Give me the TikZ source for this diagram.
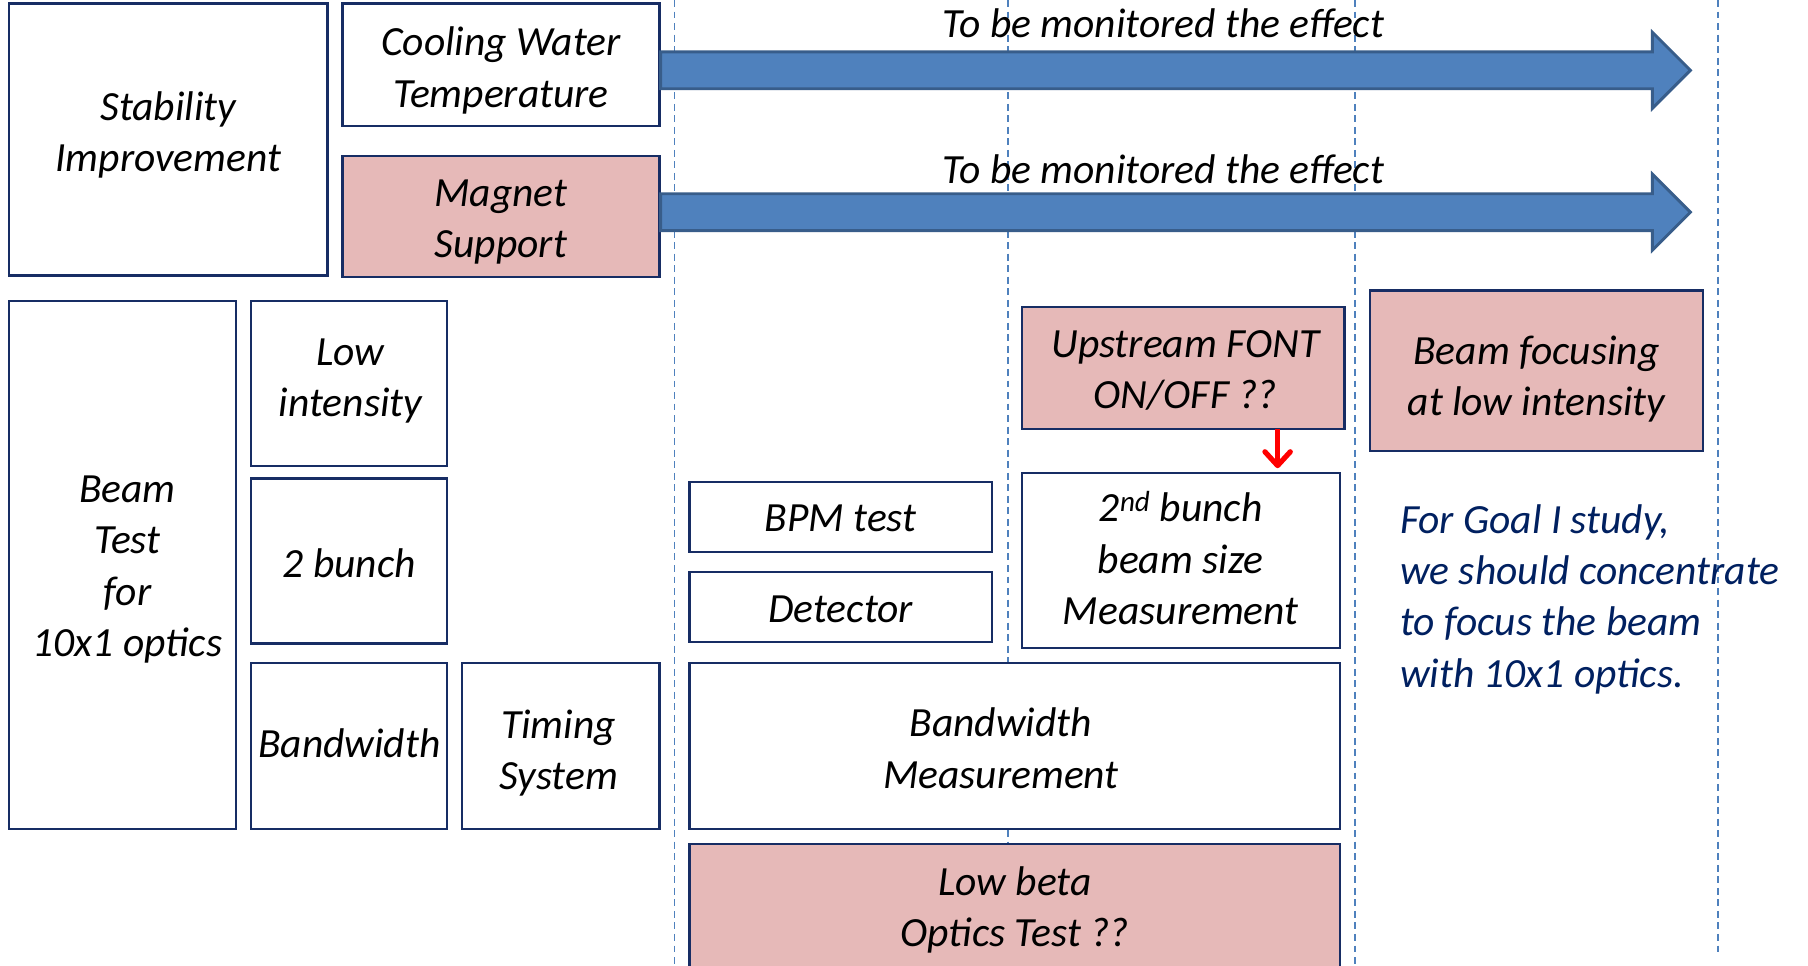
\documentclass[tikz,border=0pt]{standalone}
\usepackage{fontspec}
\setmainfont{Carlito}
\usetikzlibrary{arrows.meta}
\definecolor{navy}{RGB}{23,45,100}
\definecolor{pinkfill}{RGB}{230,185,184}
\definecolor{arrowblue}{RGB}{79,129,189}
\definecolor{arrowedge}{RGB}{56,93,138}
\definecolor{goalblue}{RGB}{0,32,96}
\definecolor{dashblue}{RGB}{79,129,189}
\tikzset{
  txt/.style={font=\fontsize{36}{44.5}\selectfont\itshape, align=center, text=black},
  box/.style={draw=navy, line width=1.9pt, fill=white, inner sep=0pt, rectangle},
  pinkbox/.style={box, fill=pinkfill},
  guide/.style={draw=dashblue, line width=1.5pt, dash pattern=on 6pt off 4pt},
  bigarrow/.style={fill=arrowblue, draw=arrowedge, line width=2.5pt, line join=miter},
  redarrow/.style={draw=red, line width=5pt, -{Straight Barb[length=12pt,width=22pt,line width=4.5pt,round]}},
}
\begin{document}
\begin{tikzpicture}[x=1pt,y=-1pt]
\clip (0,0) rectangle (1568,837);
\fill[white] (0,0) rectangle (1568,837);
% dashed guides
\draw[guide] (585,0) -- (585,837);
\draw[guide] (874,0) -- (874,837);
\draw[guide] (1175,0) -- (1175,837);
\draw[guide] (1490,0) -- (1490,828);
% top group
\node[box, minimum width=276pt, minimum height=236pt] (stab) at (146,121) {};
\node[txt] (stabT) at ([shift={(0,-4)}]stab.center) {Stability\\Improvement};
\node[box, minimum width=275pt, minimum height=106pt] (cool) at (434.5,56) {};
\node[txt] (coolT) at ([shift={(0,5)}]cool.center) {Cooling Water\\Temperature};
\node[pinkbox, minimum width=275pt, minimum height=105pt] (magnet) at (434.5,187.5) {};
\node[txt] (magnetT) at ([shift={(0,5)}]magnet.center) {Magnet\\Support};
% big arrows
\draw[bigarrow] (cool.east |- 0,45) -- (1433,45) -- (1433,28) -- (1466,61) -- (1433,94) -- (1433,77) -- (cool.east |- 0,77) -- cycle;
\draw[bigarrow] (magnet.east |- 0,168) -- (1433,168) -- (1433,151) -- (1466,184) -- (1433,217) -- (1433,200) -- (magnet.east |- 0,200) -- cycle;
\node[txt] (mon1) at (1009,20) {To be monitored the effect};
\node[txt] (mon2) at (1009,147) {To be monitored the effect};
% beam test group
\node[box, minimum width=197pt, minimum height=458pt] (beam) at (106.5,490) {};
\node[txt] (beamT) at ([shift={(4,4)}]beam.center) {Beam\\Test\\for\\10x1 optics};
\node[box, minimum width=170pt, minimum height=143pt] (low) at (303,332.5) {};
\node[txt] (lowT) at ([shift={(1,-2)}]low.center) {Low\\intensity};
\node[box, minimum width=170pt, minimum height=143pt] (twob) at (303,486.5) {};
\node[txt] (twobT) at ([shift={(0,2)}]twob.center) {2 bunch};
\node[box, minimum width=170pt, minimum height=144pt] (bw) at (303,647) {};
\node[txt] (bwT) at ([shift={(0,-2)}]bw.center) {Bandwidth};
\node[box, minimum width=171pt, minimum height=144pt] (timing) at (486.5,647) {};
\node[txt] (timingT) at ([shift={(-2,6)}]timing.center) {Timing\\System};
\node[box, minimum width=262pt, minimum height=61pt] (bpm) at (729,448.5) {};
\node[txt] (bpmT) at ([shift={(0,1)}]bpm.center) {BPM test};
\node[box, minimum width=262pt, minimum height=61pt] (det) at (729,526.5) {};
\node[txt] (detT) at ([shift={(0,2)}]det.center) {Detector};
\node[pinkbox, minimum width=280pt, minimum height=106pt] (font) at (1026,319) {};
\node[txt] (fontT) at ([shift={(2,2)}]font.center) {Upstream FONT\\ON/OFF ??};
\node[box, minimum width=276pt, minimum height=152pt] (second) at (1024,486) {};
\node[txt] (secondT) at ([shift={(0,-2)}]second.center) {2\textsuperscript{nd} bunch\\beam size\\Measurement};
\node[pinkbox, minimum width=289pt, minimum height=139pt] (focus) at (1332.5,321.5) {};
\node[txt] (focusT) at ([shift={(0,7)}]focus.center) {Beam focusing\\at low intensity};
\node[box, minimum width=564pt, minimum height=144pt] (bwm) at (880,647) {};
\node[txt] (bwmT) at ([shift={(-12,2)}]bwm.center) {Bandwidth\\Measurement};
\node[pinkbox, minimum width=564pt, minimum height=108pt] (lowbeta) at (880,786) {};
\node[txt] (lowbetaT) at ([shift={(0,3)}]lowbeta.center) {Low beta\\Optics Test ??};
% red arrow
\coordinate (ra) at (1108,0);
\draw[redarrow] ([yshift=1pt]font.south -| ra) -- ([yshift=3pt]second.north -| ra);
% goal text
\node[txt, text=goalblue, align=left, anchor=west, inner sep=0pt] (goal) at (1214,519.5) {For Goal I study,\\we should concentrate\\to focus the beam\\with 10x1 optics.};
\end{tikzpicture}
\end{document}
